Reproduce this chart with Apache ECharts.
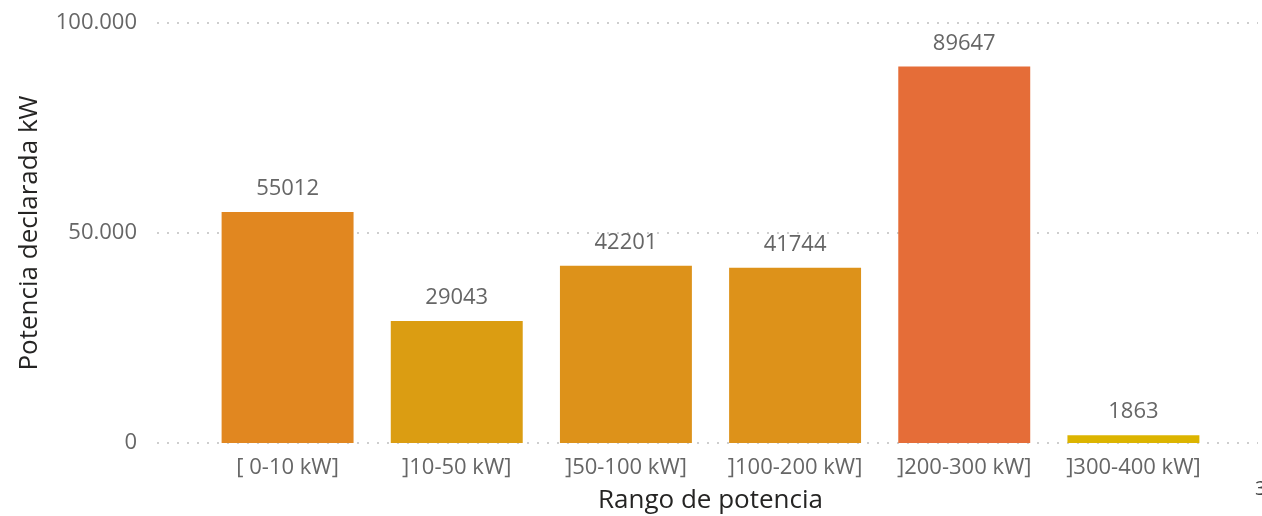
<!DOCTYPE html>
<html>
<head>
<meta charset="utf-8">
<script src="https://cdn.jsdelivr.net/npm/echarts@6/dist/echarts.min.js"></script>
<style>
  html, body { margin: 0; padding: 0; background: #fff; }
  #chart { width: 1262px; height: 516px; }
</style>
</head>
<body>
<div id="chart"></div>
<script>
// datos
var categorias = ["[ 0-10 kW]", "]10-50 kW]", "]50-100 kW]", "]100-200 kW]", "]200-300 kW]", "]300-400 kW]"];
var potencias = [55012, 29043, 42201, 41744, 89647, 1863];
var colores = ["#E18720", "#DB9D12", "#DD921A", "#DD921A", "#E56D38", "#DCB400"];
var yTicks = [0, 50000, 100000];

var fuente = "'Open Sans', 'Noto Sans', sans-serif";

var chart = echarts.init(document.getElementById("chart"));

var option = {
  animation: false,
  grid: [
    // rejilla de fondo (líneas punteadas + etiquetas eje y)
    { left: 157, right: 4, top: 23, bottom: 73, outerBoundsMode: "none" },
    // rejilla de las barras
    { left: 203, width: 1015, top: 23, bottom: 73, outerBoundsMode: "none" }
  ],
  xAxis: [
    { gridIndex: 0, type: "value", show: false, min: 0, max: 1 },
    {
      gridIndex: 1,
      type: "category",
      data: categorias,
      axisLine: { show: false },
      axisTick: { show: false },
      axisLabel: { color: "#666666", fontSize: 22, fontFamily: fuente, margin: 14, interval: 0 },
      name: "Rango de potencia",
      nameLocation: "middle",
      nameGap: 45,
      nameTextStyle: { color: "#252423", fontSize: 26, fontFamily: fuente, fontWeight: 500 }
    }
  ],
  yAxis: [
    {
      gridIndex: 0,
      type: "value",
      min: yTicks[0],
      max: yTicks[yTicks.length - 1],
      interval: yTicks[1] - yTicks[0],
      axisLine: { show: false },
      axisTick: { show: false },
      axisLabel: {
        color: "#666666",
        fontSize: 22,
        fontFamily: fuente,
        margin: 20,
        formatter: function (v) {
          return v.toString().replace(/\B(?=(\d{3})+(?!\d))/g, ".");
        }
      },
      splitLine: { lineStyle: { color: "#BEBEBE", type: [2, 8], width: 1.5 } },
      name: "Potencia declarada kW",
      nameLocation: "middle",
      nameGap: 114,
      nameTextStyle: { color: "#252423", fontSize: 26, fontFamily: fuente, fontWeight: 500 }
    },
    {
      gridIndex: 1,
      type: "value",
      min: yTicks[0],
      max: yTicks[yTicks.length - 1],
      show: false,
      splitLine: { show: false }
    }
  ],
  series: [
    {
      type: "bar",
      xAxisIndex: 1,
      yAxisIndex: 1,
      barCategoryGap: "22%",
      data: potencias.map(function (v, i) {
        return { value: v, itemStyle: { color: colores[i] } };
      }),
      label: {
        show: true,
        position: "top",
        distance: 12,
        color: "#666666",
        fontSize: 22,
        fontFamily: fuente
      }
    }
  ],
  graphic: [
    {
      type: "text",
      left: 1255,
      top: 479,
      style: { text: "3", fill: "#444", font: "20px " + fuente }
    }
  ]
};

chart.setOption(option);
</script>
</body>
</html>
